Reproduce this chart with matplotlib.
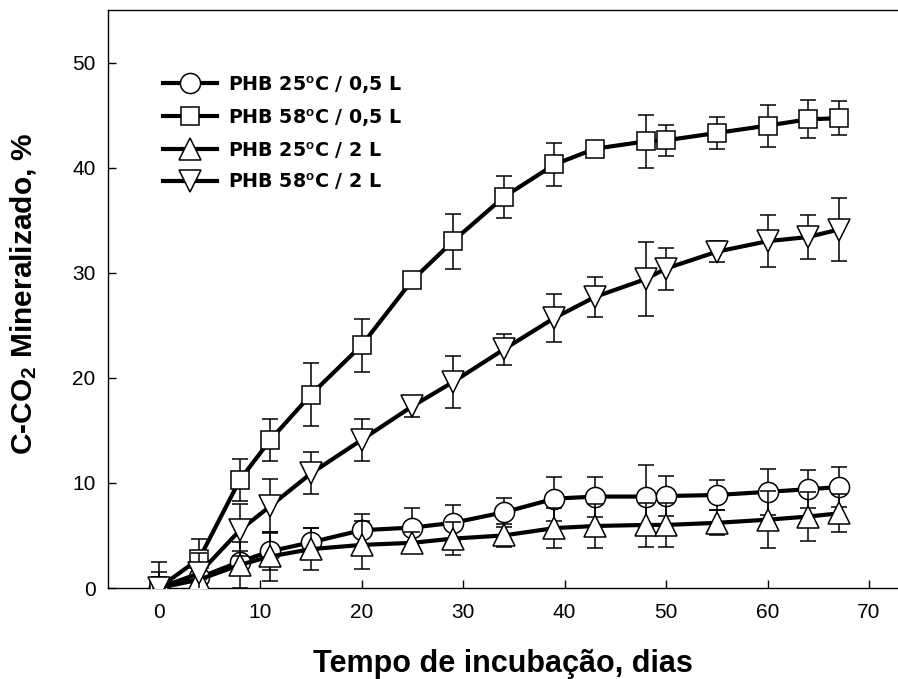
import matplotlib
matplotlib.use("Agg")
import matplotlib.pyplot as plt

plt.rcParams['font.family'] = ['Liberation Sans', 'DejaVu Sans']
plt.rcParams['mathtext.fontset'] = 'custom'
plt.rcParams['mathtext.rm'] = 'Liberation Sans'
plt.rcParams['mathtext.bf'] = 'Liberation Sans:bold'
plt.rcParams['mathtext.default'] = 'bf'

days = [0, 4, 8, 11, 15, 20, 25, 29, 34, 39, 43, 48, 50, 55, 60, 64, 67]

phb25_05 = [0, 1.0, 2.5, 3.5, 4.35, 5.5, 5.75, 6.2, 7.2, 8.5, 8.7, 8.7, 8.75, 8.85, 9.15, 9.4, 9.6]
phb25_05_err = [2.5, 0.8, 1.0, 1.8, 1.4, 1.5, 1.9, 1.7, 1.4, 2.1, 1.9, 3.0, 1.9, 1.4, 2.2, 1.8, 1.9]

phb58_05 = [0, 2.8, 10.3, 14.1, 18.4, 23.1, 29.3, 33.0, 37.2, 40.3, 41.8, 42.5, 42.6, 43.3, 44.0, 44.6, 44.7]
phb58_05_err = [1.5, 1.9, 2.0, 2.0, 3.0, 2.5, 0.3, 2.6, 2.0, 2.0, 0.3, 2.5, 1.5, 1.5, 2.0, 1.8, 1.6]

phb25_2 = [0, 0.8, 2.2, 3.0, 3.7, 4.1, 4.3, 4.7, 5.0, 5.7, 5.9, 6.0, 6.0, 6.2, 6.5, 6.8, 7.1]
phb25_2_err = [1.0, 0.8, 2.2, 2.3, 2.0, 2.3, 1.0, 1.6, 1.1, 1.9, 2.1, 2.1, 2.1, 1.2, 2.7, 2.3, 1.8]

phb58_2 = [0, 1.4, 5.5, 7.8, 10.9, 14.1, 17.3, 19.6, 22.7, 25.7, 27.7, 29.4, 30.4, 32.0, 33.0, 33.4, 34.1]
phb58_2_err = [1.0, 1.9, 2.5, 2.6, 2.0, 2.0, 1.0, 2.5, 1.5, 2.3, 1.9, 3.5, 2.0, 1.0, 2.5, 2.1, 3.0]

labels = ["PHB 25$^{o}$C / 0,5 L", "PHB 58$^{o}$C / 0,5 L",
          "PHB 25$^{o}$C / 2 L", "PHB 58$^{o}$C / 2 L"]
xticks = [0, 10, 20, 30, 40, 50, 60, 70]
yticks = [0, 10, 20, 30, 40, 50]

fig = plt.figure(figsize=(8.98, 6.79), dpi=100)
ax = fig.add_axes([108/898, 91/679, 1 - 108/898, 578/679])

series = [
    (phb25_05, phb25_05_err, 'o', 14.5),
    (phb58_05, phb58_05_err, 's', 13.5),
    (phb25_2, phb25_2_err, '^', 16),
    (phb58_2, phb58_2_err, 'v', 16),
]

handles = []
for i, (vals, errs, mk, ms) in enumerate(series):
    ax.errorbar(days, vals, yerr=errs, fmt='none', ecolor='black',
                elinewidth=1.1, capsize=6, capthick=1.1, zorder=2 + i)
    h, = ax.plot(days, vals, '-', color='black', lw=3.0, marker=mk,
                 ms=ms, mfc='white', mec='black', mew=1.1, zorder=3 + i)
    handles.append(h)

ax.set_xlim(-5, 72.86)
ax.set_ylim(0, 55)
ax.set_xticks(xticks)
ax.set_yticks(yticks)
ax.tick_params(direction='in', length=6, width=1, labelsize=15, pad=9)
ax.tick_params(axis='x', pad=11)
for s in ['left', 'bottom', 'top']:
    ax.spines[s].set_linewidth(1.0)
ax.spines['right'].set_visible(False)

ax.set_xlabel("Tempo de incubação, dias", fontsize=22, fontweight='bold')
ax.xaxis.set_label_coords(0.5, -0.1055)
ax.set_ylabel("C-CO$_2$ Mineralizado, %", fontsize=21.5, fontweight='bold')
ax.yaxis.set_label_coords(-0.0873, 0.51)

leg = ax.legend(handles, labels, loc='upper left',
                bbox_to_anchor=(163/898, 1 - 74/679),
                bbox_transform=fig.transFigure,
                frameon=False,
                prop={'family': 'DejaVu Sans', 'weight': 'bold', 'size': 13.7},
                handlelength=2.84, handletextpad=0.58, labelspacing=0.62,
                borderpad=0, borderaxespad=0)
for t in leg.get_texts():
    t.set_fontfamily('DejaVu Sans')

fig.savefig("out.png", dpi=100)
